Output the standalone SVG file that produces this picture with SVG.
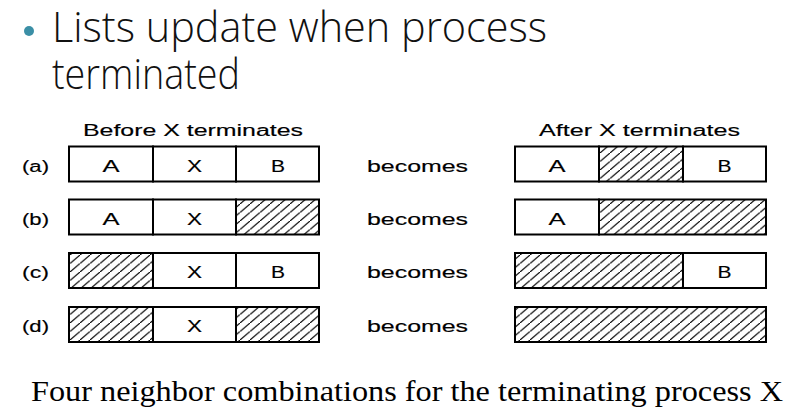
<svg xmlns="http://www.w3.org/2000/svg" width="792" height="414" viewBox="0 0 792 414">
<defs>
<pattern id="hatch" patternUnits="userSpaceOnUse" width="10" height="8.5">
<line x1="-10" y1="17" x2="20" y2="-8.5" stroke="#000" stroke-width="1.2"/>
</pattern>
<style>
.s{font-family:"Liberation Sans",Arial,sans-serif;font-size:16px;fill:#000;stroke:#000;stroke-width:0.15}
.c{stroke:#000;stroke-width:2;fill:#fff}
.h{stroke:#000;stroke-width:2;fill:url(#hatch)}
.t{font-family:"Open Sans","Noto Sans",sans-serif;font-size:43px;font-weight:350;fill:#111}
</style>
</defs>
<rect width="792" height="414" fill="#fff"/>
<g id="title">
<circle cx="29" cy="31" r="5" fill="#3b8fa6"/>
<text class="t" x="52" y="42" textLength="495" lengthAdjust="spacingAndGlyphs">Lists update when process</text>
<text class="t" x="52" y="89" textLength="188" lengthAdjust="spacingAndGlyphs">terminated</text>
</g>
<g id="headers">
<text class="s" x="83" y="136" textLength="220" lengthAdjust="spacingAndGlyphs">Before X terminates</text>
<text class="s" x="539" y="136" textLength="201" lengthAdjust="spacingAndGlyphs">After X terminates</text>
</g>
<g id="row-a">
<text class="s" x="22" y="172" textLength="27" lengthAdjust="spacingAndGlyphs">(a)</text>
<rect class="c" x="69" y="146.5" width="84" height="35"/>
<rect class="c" x="153" y="146.5" width="83" height="35"/>
<rect class="c" x="236" y="146.5" width="83" height="35"/>
<text class="s" x="102.5" y="172" textLength="17" lengthAdjust="spacingAndGlyphs">A</text>
<text class="s" x="187" y="172" textLength="15" lengthAdjust="spacingAndGlyphs">X</text>
<text class="s" x="271" y="172" textLength="14" lengthAdjust="spacingAndGlyphs">B</text>
<text class="s" x="367" y="172" textLength="101" lengthAdjust="spacingAndGlyphs">becomes</text>
<rect class="c" x="515" y="146.5" width="84" height="35"/>
<rect class="h" x="599" y="146.5" width="84" height="35"/>
<rect class="c" x="683" y="146.5" width="83" height="35"/>
<text class="s" x="548.5" y="172" textLength="17" lengthAdjust="spacingAndGlyphs">A</text>
<text class="s" x="717.5" y="172" textLength="14" lengthAdjust="spacingAndGlyphs">B</text>
</g>
<g id="row-b">
<text class="s" x="22" y="225" textLength="27" lengthAdjust="spacingAndGlyphs">(b)</text>
<rect class="c" x="69" y="199.5" width="84" height="35"/>
<rect class="c" x="153" y="199.5" width="83" height="35"/>
<rect class="h" x="236" y="199.5" width="83" height="35"/>
<text class="s" x="102.5" y="225" textLength="17" lengthAdjust="spacingAndGlyphs">A</text>
<text class="s" x="187" y="225" textLength="15" lengthAdjust="spacingAndGlyphs">X</text>
<text class="s" x="367" y="225" textLength="101" lengthAdjust="spacingAndGlyphs">becomes</text>
<rect class="c" x="515" y="199.5" width="84" height="35"/>
<rect class="h" x="599" y="199.5" width="167" height="35"/>
<text class="s" x="548.5" y="225" textLength="17" lengthAdjust="spacingAndGlyphs">A</text>
</g>
<g id="row-c">
<text class="s" x="22" y="278" textLength="27" lengthAdjust="spacingAndGlyphs">(c)</text>
<rect class="h" x="69" y="253" width="84" height="35"/>
<rect class="c" x="153" y="253" width="83" height="35"/>
<rect class="c" x="236" y="253" width="83" height="35"/>
<text class="s" x="187" y="278" textLength="15" lengthAdjust="spacingAndGlyphs">X</text>
<text class="s" x="271" y="278" textLength="14" lengthAdjust="spacingAndGlyphs">B</text>
<text class="s" x="367" y="278" textLength="101" lengthAdjust="spacingAndGlyphs">becomes</text>
<rect class="h" x="515" y="253" width="168" height="35"/>
<rect class="c" x="683" y="253" width="83" height="35"/>
<text class="s" x="717.5" y="278" textLength="14" lengthAdjust="spacingAndGlyphs">B</text>
</g>
<g id="row-d">
<text class="s" x="22" y="332" textLength="27" lengthAdjust="spacingAndGlyphs">(d)</text>
<rect class="h" x="69" y="307" width="84" height="35"/>
<rect class="c" x="153" y="307" width="83" height="35"/>
<rect class="h" x="236" y="307" width="83" height="35"/>
<text class="s" x="187" y="332" textLength="15" lengthAdjust="spacingAndGlyphs">X</text>
<text class="s" x="367" y="332" textLength="101" lengthAdjust="spacingAndGlyphs">becomes</text>
<rect class="h" x="515" y="307" width="251" height="35"/>
</g>
<g id="connectors"></g>
<g id="caption">
<text x="31" y="401" font-family="'Liberation Serif','Times New Roman',serif" font-size="29" fill="#000" textLength="752" lengthAdjust="spacingAndGlyphs">Four neighbor combinations for the terminating process X</text>
</g>
</svg>
